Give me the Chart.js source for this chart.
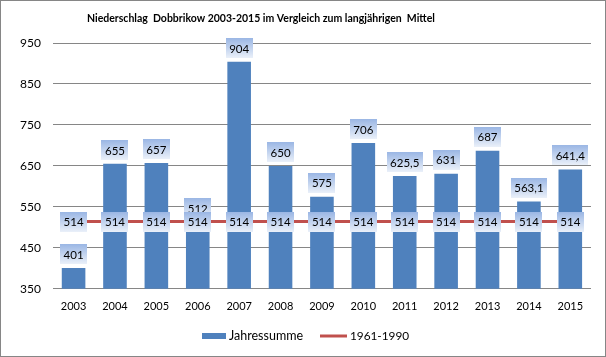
<!DOCTYPE html>
<html>
<head>
<meta charset="utf-8">
<script src="https://cdn.jsdelivr.net/npm/chart.js@4"></script>
<style>
html,body{margin:0;padding:0;background:#fff;}
#wrap{width:606px;height:357px;position:relative;}
</style>
</head>
<body>
<div id="wrap"><canvas id="c" width="606" height="357"></canvas></div>
<script>
const categories = ['2003','2004','2005','2006','2007','2008','2009','2010','2011','2012','2013','2014','2015'];
const jahressumme = [401, 655, 657, 512, 904, 650, 575, 706, 625.5, 631, 687, 563.1, 641.4];
const mittel = [514, 514, 514, 514, 514, 514, 514, 514, 514, 514, 514, 514, 514];
const seriesNames = ['Jahressumme', '1961-1990'];
const titleText = 'Niederschlag  Dobbrikow 2003-2015 im Vergleich zum langjährigen  Mittel';
const yMin = 350, yMax = 950, yStep = 100;

const FONT = 'Lato, "Open Sans", sans-serif';
const BLUE = '#4f81bd';
const RED = '#c0504d';
const GRID = '#868686';

function fmt(v){ return String(v).replace('.', ','); }

function drawLabelBox(ctx, text, cx, cy){
  ctx.font = '11.5px ' + FONT;
  const tw = ctx.measureText(text).width;
  const w = Math.round(tw + 7), h = 20;
  const x = Math.round(cx - w/2), y = Math.round(cy - h/2);
  const g = ctx.createLinearGradient(0, y, 0, y + h);
  g.addColorStop(0, '#9ab6e4');
  g.addColorStop(1, '#eaf0f9');
  ctx.fillStyle = g;
  ctx.fillRect(x, y, w, h);
  ctx.fillStyle = '#000';
  ctx.textAlign = 'center';
  ctx.textBaseline = 'middle';
  ctx.fillText(text, cx, cy + 1);
}

const decor = {
  id: 'decor',
  beforeDraw(chart){
    const ctx = chart.ctx;
    ctx.save();
    ctx.fillStyle = '#fff';
    ctx.fillRect(0, 0, chart.width, chart.height);
    ctx.restore();
  },
  afterDatasetsDraw(chart){
    const ctx = chart.ctx;
    ctx.save();
    const barMeta = chart.getDatasetMeta(0);
    barMeta.data.forEach((el, i) => {
      drawLabelBox(ctx, fmt(chart.data.datasets[0].data[i]), el.x, el.y - 14);
    });
    const lineMeta = chart.getDatasetMeta(1);
    lineMeta.data.forEach((el, i) => {
      drawLabelBox(ctx, fmt(chart.data.datasets[1].data[i]), el.x, el.y);
    });
    ctx.restore();
  },
  afterDraw(chart){
    const ctx = chart.ctx;
    ctx.save();
    // title
    ctx.font = 'bold 11px ' + FONT;
    ctx.fillStyle = '#000';
    ctx.textAlign = 'left';
    ctx.textBaseline = 'middle';
    const tw = ctx.measureText(titleText).width;
    const target = 348;
    const fs = 11 * target / tw;
    ctx.font = 'bold ' + fs.toFixed(2) + 'px ' + FONT;
    ctx.fillText(titleText, 87, 19);
    // legend
    const ly = 336;
    ctx.textBaseline = 'middle';
    ctx.fillStyle = chart.data.datasets[0].backgroundColor;
    ctx.fillRect(202, ly - 3, 24, 6);
    ctx.fillStyle = '#000';
    ctx.font = '12.5px ' + FONT;
    ctx.fillText(chart.data.datasets[0].label, 229, ly);
    ctx.strokeStyle = chart.data.datasets[1].borderColor;
    ctx.lineWidth = 3;
    ctx.beginPath();
    ctx.moveTo(320, ly);
    ctx.lineTo(347, ly);
    ctx.stroke();
    ctx.font = '11.8px ' + FONT;
    ctx.fillText(chart.data.datasets[1].label, 350, ly);
    // frame
    ctx.strokeStyle = GRID;
    ctx.lineWidth = 1;
    ctx.strokeRect(0.5, 0.5, chart.width - 1, chart.height - 1);
    ctx.restore();
  }
};

new Chart(document.getElementById('c'), {
  type: 'bar',
  data: {
    labels: categories,
    datasets: [
      {
        type: 'bar',
        label: seriesNames[0],
        data: jahressumme,
        backgroundColor: BLUE,
        barPercentage: 0.57,
        categoryPercentage: 1.0,
        order: 2
      },
      {
        type: 'line',
        label: seriesNames[1],
        data: mittel,
        borderColor: RED,
        backgroundColor: RED,
        borderWidth: 3,
        pointRadius: 0,
        fill: false,
        order: 1
      }
    ]
  },
  options: {
    responsive: false,
    animation: false,
    devicePixelRatio: 1,
    layout: { padding: { top: 43, right: 15, bottom: 41, left: 8 } },
    plugins: {
      legend: { display: false },
      title: { display: false },
      tooltip: { enabled: false }
    },
    scales: {
      x: {
        grid: { display: false },
        border: { display: false },
        ticks: { color: '#000', font: { family: FONT, size: 11 }, padding: 3 }
      },
      y: {
        min: yMin, max: yMax,
        border: { display: false },
        grid: { color: GRID, lineWidth: 1, drawTicks: false },
        ticks: { stepSize: yStep, color: '#000', font: { family: FONT, size: 12 }, padding: 12 }
      }
    }
  },
  plugins: [decor]
});
</script>
</body>
</html>
